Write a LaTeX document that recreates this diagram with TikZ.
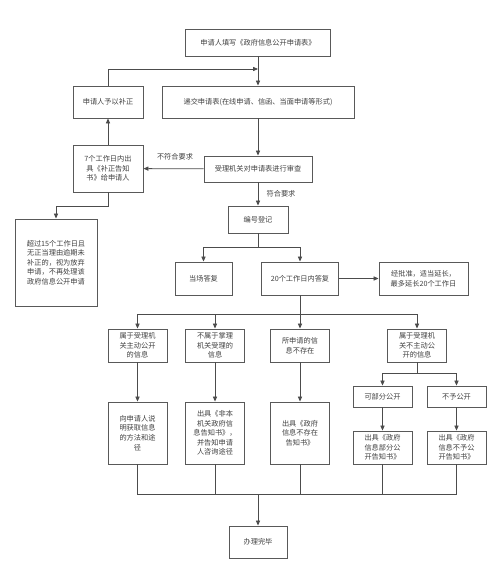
\documentclass[tikz,border=0pt]{standalone}
\usepackage{fontspec}
\newfontfamily\cjk{Noto Sans CJK SC}
\usetikzlibrary{arrows.meta}

\begin{document}
\begin{tikzpicture}[x=1pt,y=-1pt,
  flowbox/.style={draw=black!65,line width=0.9pt,fill=white,align=center,inner sep=1pt,
    font=\cjk\fontsize{7.2}{9.6}\selectfont,text=black!75},
  arr/.style={draw=black!70,line width=0.8pt,-{Triangle[length=5pt,width=4.2pt]}},
  ln/.style={draw=black!70,line width=0.8pt},
  lbl/.style={font=\cjk\fontsize{7.2}{9}\selectfont,text=black!75}]
\useasboundingbox (0,0) rectangle (500,573);
% top part
\node[flowbox,minimum width=145pt,minimum height=27pt] (fill) at (258,42.5) {申请人填写《政府信息公开申请表》};
\node[flowbox,minimum width=70pt,minimum height=32pt] (fix) at (108,102) {申请人予以补正};
\node[flowbox,minimum width=192pt,minimum height=32pt] (submit) at (258,102) {递交申请表(在线申请、信函、当面申请等形式)};
\node[flowbox,minimum width=70pt,minimum height=47pt] (notice) at (108,168.5) {7个工作日内出\\具《补正告知\\书》给申请人};
\node[flowbox,minimum width=108pt,minimum height=26pt] (review) at (258,169) {受理机关对申请表进行审查};
\node[flowbox,minimum width=82pt,minimum height=87pt] (giveup) at (56,262.5) {超过15个工作日且\\无正当理由逾期未\\补正的，视为放弃\\申请，不再处理该\\政府信息公开申请};
\node[flowbox,minimum width=60pt,minimum height=27pt] (reg) at (258,219.5) {编号登记};
\node[flowbox,minimum width=57pt,minimum height=33pt] (onsite) at (203.5,278.5) {当场答复};
\node[flowbox,minimum width=77pt,minimum height=33pt] (reply) at (300,278.5) {20个工作日内答复};
\node[flowbox,minimum width=89pt,minimum height=33pt] (extend) at (423.5,278.5) {经批准，适当延长，\\最多延长20个工作日};
% categories
\node[flowbox,minimum width=59pt,minimum height=33pt] (ca) at (137.5,345.5) {属于受理机\\关主动公开\\的信息};
\node[flowbox,minimum width=59pt,minimum height=33pt] (cb) at (215,345.5) {不属于掌理\\机关受理的\\信息};
\node[flowbox,minimum width=59pt,minimum height=33pt] (cc) at (300,345.5) {所申请的信\\息不存在};
\node[flowbox,minimum width=59pt,minimum height=33pt] (cd) at (417,345.5) {属于受理机\\关不主动公\\开的信息};
\node[flowbox,minimum width=59pt,minimum height=21pt] (part) at (382.5,396.5) {可部分公开};
\node[flowbox,minimum width=59pt,minimum height=21pt] (deny) at (456.5,396.5) {不予公开};
% results
\node[flowbox,minimum width=59pt,minimum height=62pt] (ra) at (137.5,433) {向申请人说\\明获取信息\\的方法和途\\径};
\node[flowbox,minimum width=59pt,minimum height=62pt] (rb) at (215,433) {出具《非本\\机关政府信\\息告知书》，\\并告知申请\\人咨询途径};
\node[flowbox,minimum width=59pt,minimum height=62pt] (rc) at (300,433) {出具《政府\\信息不存在\\告知书》};
\node[flowbox,minimum width=59pt,minimum height=33pt] (rd) at (382.5,447.5) {出具《政府\\信息部分公\\开告知书》};
\node[flowbox,minimum width=59pt,minimum height=33pt] (re) at (456.5,447.5) {出具《政府\\信息不予公\\开告知书》};
\node[flowbox,minimum width=58pt,minimum height=32pt] (done) at (258,542) {办理完毕};
% helper points
\coordinate (j1) at (258,69);
\coordinate (j2) at (258,494);
% connectors
\draw[arr] (fill) -- (submit);
\draw[arr] (fix.north) |- (j1);
\draw[arr] (submit) -- (review);
\draw[arr] (review) -- (notice);
\node[lbl] at (175,157) {不符合要求};
\draw[arr] (notice) -- (fix);
\draw[arr] (notice.south) -- ++(0,14) -| (giveup.north);
\draw[arr] (review) -- (reg);
\node[lbl] at (281,194) {符合要求};
\draw[arr] (reg.south) -- ++(0,14) -| (onsite.north);
\draw[arr] (reg.south) -- ++(0,14) -| (reply.north);
\draw[arr] (reply) -- (extend);
\draw[arr] (reply.south) -- ++(0,19) -| (ca.north);
\draw[arr] (reply.south) -- ++(0,19) -| (cb.north);
\draw[arr] (reply.south) -- (cc.north);
\draw[arr] (reply.south) -- ++(0,19) -| (cd.north);
\draw[arr] (cd.south) -- ++(0,11) -| (part.north);
\draw[arr] (cd.south) -- ++(0,11) -| (deny.north);
\draw[arr] (ca) -- (ra);
\draw[arr] (cb) -- (rb);
\draw[arr] (cc) -- (rc);
\draw[arr] (part) -- (rd);
\draw[arr] (deny) -- (re);
\draw[ln] (ra.south) |- (j2);
\draw[ln] (rb.south) |- (j2);
\draw[ln] (rc.south) |- (j2);
\draw[ln] (rd.south) |- (j2);
\draw[ln] (re.south) |- (j2);
\draw[arr] (j2) -- (done);
\end{tikzpicture}
\end{document}
